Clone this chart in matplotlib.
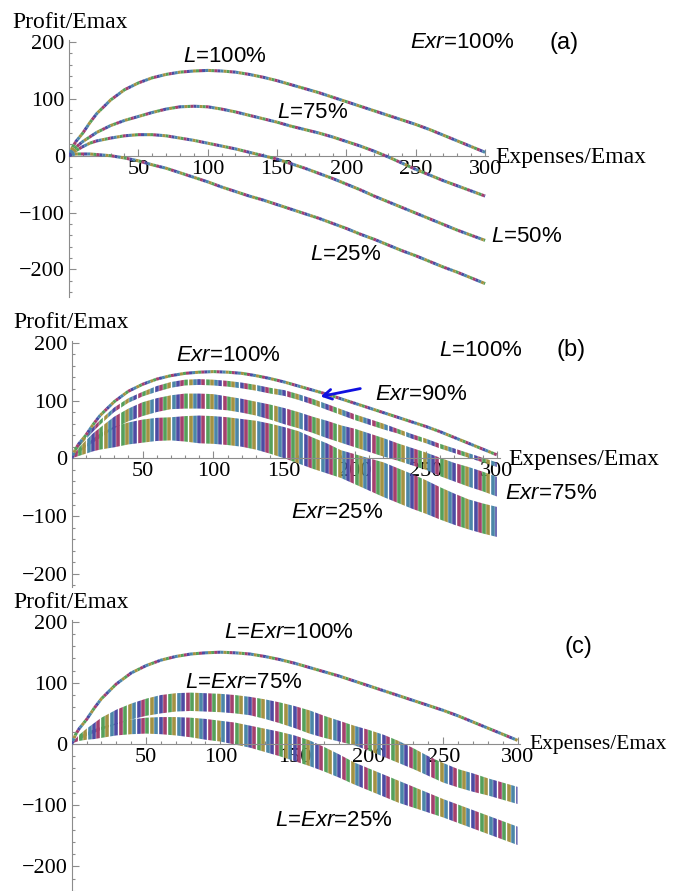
import numpy as np
import matplotlib
matplotlib.use('Agg')
import matplotlib.pyplot as plt
from matplotlib.patches import Polygon

plt.rcParams['font.family'] = 'Liberation Serif'
plt.rcParams['mathtext.fontset'] = 'custom'
plt.rcParams['mathtext.it'] = 'Liberation Sans:italic'
plt.rcParams['mathtext.rm'] = 'Liberation Sans'

# expenses grid (Expenses/Emax) shared by every series
expenses = np.array([0, 2.5, 5, 10, 15, 20] + list(range(30, 301, 10)), dtype=float)

# (a) Exr = 100 %, different L
prof_L100 = [0, 15, 25, 40, 58, 74, 98, 116, 128, 137, 143, 147, 149, 150, 149, 147,
             143, 138, 132, 125, 118, 111, 103, 95, 87, 79, 71, 63, 55, 46, 36, 26, 16, 6]
prof_L75 = [0, 9, 15, 25, 33, 41, 53, 62, 69, 76, 82, 86, 87, 86, 82, 77,
            71, 65, 59, 52, 46, 40, 33, 25, 17, 8, -2, -13, -24, -34, -44, -53, -62, -71]
prof_L50 = [0, 5, 9, 16, 22, 26, 31, 35, 37, 37, 35, 31, 27, 22, 17, 12,
            6, 0, -6, -14, -22, -31, -40, -50, -60, -71, -81, -91, -101, -111, -121, -131, -140, -149]
prof_L25 = [0, 2, 3, 3, 3, 2, 0, -4, -9, -16, -22, -30, -38, -46, -55, -63,
            -71, -78, -86, -94, -102, -110, -119, -128, -138, -147, -157, -167, -176, -186, -196, -205, -215, -225]

# (b) L = 100 %, different Exr (centre of the cloud and its half spread)
exr90_mid = [0, 13, 22, 36, 50, 62, 84, 100, 111, 120, 127, 131, 132, 131, 129, 126,
             122, 117, 113, 106, 98, 89, 80, 71, 63, 55, 47, 38, 30, 21, 13, 5, -3, -11]
exr90_half = [0, 2, 3, 3, 4, 4, 4, 4, 4, 5, 5, 5, 5, 5, 5, 5,
              5, 5, 5, 5, 5, 5, 5, 5, 5, 5, 4, 4, 4, 4, 4, 4, 4, 4]
exr75_mid = [0, 8, 14, 25, 35, 44, 62, 75, 85, 92, 97, 99, 99, 98, 95, 91,
             86, 80, 73, 66, 58, 50, 42, 35, 27, 19, 11, 3, -5, -15, -24, -32, -40, -49]
exr75_half = [0, 2, 4, 6, 8, 9, 10, 11, 12, 12, 12, 13, 13, 13, 12, 12,
              12, 13, 14, 14, 14, 15, 15, 16, 16, 16, 15, 15, 15, 16, 16, 17, 17, 17]
exr25_mid = [0, 5, 9, 16, 23, 29, 37, 43, 47, 50, 51, 51, 50, 49, 47, 44,
             40, 34, 27, 19, 9, 0, -10, -19, -28, -37, -47, -57, -67, -78, -88, -97, -104, -110]
exr25_half = [0, 3, 5, 8, 11, 14, 18, 19, 20, 20, 20, 22, 24, 24, 24, 24,
              25, 26, 27, 28, 27, 26, 24, 26, 28, 30, 30, 30, 29, 28, 27, 26, 26, 26]

# (c) L = Exr
lexr75_mid = [0, 6, 11, 19, 26, 33, 44, 53, 60, 65, 68, 69, 68, 67, 65, 62,
              57, 51, 44, 36, 28, 21, 14, 6, -3, -13, -24, -36, -47, -56, -63, -70, -77, -84]
lexr75_half = [0, 2, 4, 6, 8, 10, 12, 13, 14, 15, 15, 15, 15, 15, 15, 15,
               16, 17, 18, 19, 18, 17, 16, 17, 18, 18, 17, 16, 16, 15, 15, 14, 14, 14]
lexr25_mid = [0, 5, 9, 13, 16, 19, 24, 28, 30, 30, 29, 27, 24, 21, 17, 12,
              6, 0, -7, -15, -25, -36, -48, -58, -68, -78, -87, -96, -105, -114, -123, -132, -141, -150]
lexr25_half = [0, 2, 4, 6, 8, 9, 10, 12, 13, 14, 15, 16, 17, 17, 18, 18,
               19, 20, 21, 21, 20, 19, 18, 18, 18, 18, 17, 16, 15, 15, 15, 15, 15, 15]

COLORS = ['#4d4ba3', '#a3406e', '#55a05a', '#a39243', '#4b86a8']
AXIS_GRAY = '#8c8c8c'
W, H = 673, 891

fig = plt.figure(figsize=(W / 100, H / 100), dpi=100)


def make_axes(x0, xscale, y0, yscale, ylim, xmax=302):
    # x0/y0: pixel position of the origin, scales in pixels per unit
    left = x0 / W
    width = xmax * xscale / W
    top = y0 - ylim[1] * yscale
    bottom = y0 - ylim[0] * yscale
    ax = fig.add_axes([left, 1 - bottom / H, width, (bottom - top) / H])
    ax.set_xlim(0, xmax)
    ax.set_ylim(*ylim)
    ax.patch.set_alpha(0)
    for s in ['top', 'right']:
        ax.spines[s].set_visible(False)
    for s in ['left', 'bottom']:
        ax.spines[s].set_position(('data', 0))
        ax.spines[s].set_color(AXIS_GRAY)
        ax.spines[s].set_linewidth(0.8)
    ax.set_xticks(range(50, 301, 50))
    ax.set_yticks([-200, -100, 0, 100, 200])
    ax.set_xticks(range(10, 301, 10), minor=True)
    ax.set_yticks([v for v in range(-240, 201, 20) if v >= ylim[0]], minor=True)
    ax.tick_params(which='both', direction='in', color=AXIS_GRAY, labelcolor='black',
                   labelsize=16, width=0.8, pad=3)
    ax.tick_params(which='major', length=5)
    ax.tick_params(which='minor', length=2.5)
    return ax


def dotted_curve(ax, xs, ys, lw=2.2):
    # same curve drawn once per colour with staggered dashes
    n = len(COLORS)
    seg = 1.0
    for i, c in enumerate(COLORS):
        ax.plot(xs, ys, color=c, lw=lw, dash_capstyle='butt',
                linestyle=(i * seg, (seg, seg * (n - 1))), zorder=3)


def striped_band(ax, xs, mid, half, step=3.0, lw=2.6):
    # cloud of points shown as coloured vertical stripes inside the band
    mid = np.asarray(mid, float)
    half = np.asarray(half, float)
    lo, hi = mid - half, mid + half
    verts = np.vstack([np.column_stack([xs, hi]), np.column_stack([xs[::-1], lo[::-1]])])
    patch = Polygon(verts, closed=True, facecolor='none', edgecolor='none')
    ax.add_patch(patch)
    sx = np.arange(0, xs[-1] + step, step)
    cols = [COLORS[i % len(COLORS)] for i in range(len(sx))]
    lc = ax.vlines(sx, -300, 300, colors=cols, lw=lw, zorder=2)
    lc.set_clip_path(patch)


def px_text(x, y, s, ha='center', family='Liberation Sans', size=16):
    fig.text(x / W, 1 - y / H, s, ha=ha, va='center', family=family, fontsize=size)


def axis_labels(ylab_xy, xlab_xy, size=17):
    px_text(ylab_xy[0], ylab_xy[1], 'Profit/Emax', ha='left', family='Liberation Serif', size=17)
    px_text(xlab_xy[0], xlab_xy[1], 'Expenses/Emax', ha='left', family='Liberation Serif', size=size)


# ---- (a)
ax_a = make_axes(69, 1.387, 155.7, 0.5685, (-248, 203))
for prof in [prof_L100, prof_L75, prof_L50, prof_L25]:
    dotted_curve(ax_a, expenses, prof)
axis_labels((12, 22), (495, 157))
px_text(225, 57, r'$L$=100%')
px_text(313, 113, r'$L$=75%')
px_text(527, 237, r'$L$=50%')
px_text(346, 255, r'$L$=25%')
px_text(462, 43, r'$Exr$=100%')
px_text(564, 43, '(a)', size=17)

# ---- (b)
ax_b = make_axes(71.7, 1.417, 458.3, 0.578, (-222, 203))
striped_band(ax_b, expenses, exr25_mid, exr25_half)
striped_band(ax_b, expenses, exr75_mid, exr75_half)
striped_band(ax_b, expenses, exr90_mid, exr90_half)
dotted_curve(ax_b, expenses, prof_L100)
ax_b.annotate('', xy=(173.8, 106), xytext=(205.6, 121.6),
              arrowprops=dict(arrowstyle='->, head_length=0.6, head_width=0.35',
                              color='#1010e0', lw=2), zorder=5)
axis_labels((13, 322), (508, 460))
px_text(228, 355, r'$Exr$=100%')
px_text(481, 350, r'$L$=100%')
px_text(571, 350, '(b)', size=17)
px_text(421, 395, r'$Exr$=90%')
px_text(551, 493, r'$Exr$=75%')
px_text(337, 512, r'$Exr$=25%')

# ---- (c)
ax_c = make_axes(71.7, 1.486, 744, 0.612, (-240, 203))
striped_band(ax_c, expenses, lexr25_mid, lexr25_half)
striped_band(ax_c, expenses, lexr75_mid, lexr75_half)
dotted_curve(ax_c, expenses, prof_L100)
axis_labels((13, 603), (529, 745), size=15.5)
px_text(289, 633, r'$L$=$Exr$=100%')
px_text(244, 682, r'$L$=$Exr$=75%')
px_text(334, 820, r'$L$=$Exr$=25%')
px_text(578, 647, '(c)', size=17)

fig.savefig('out.png', dpi=100)
